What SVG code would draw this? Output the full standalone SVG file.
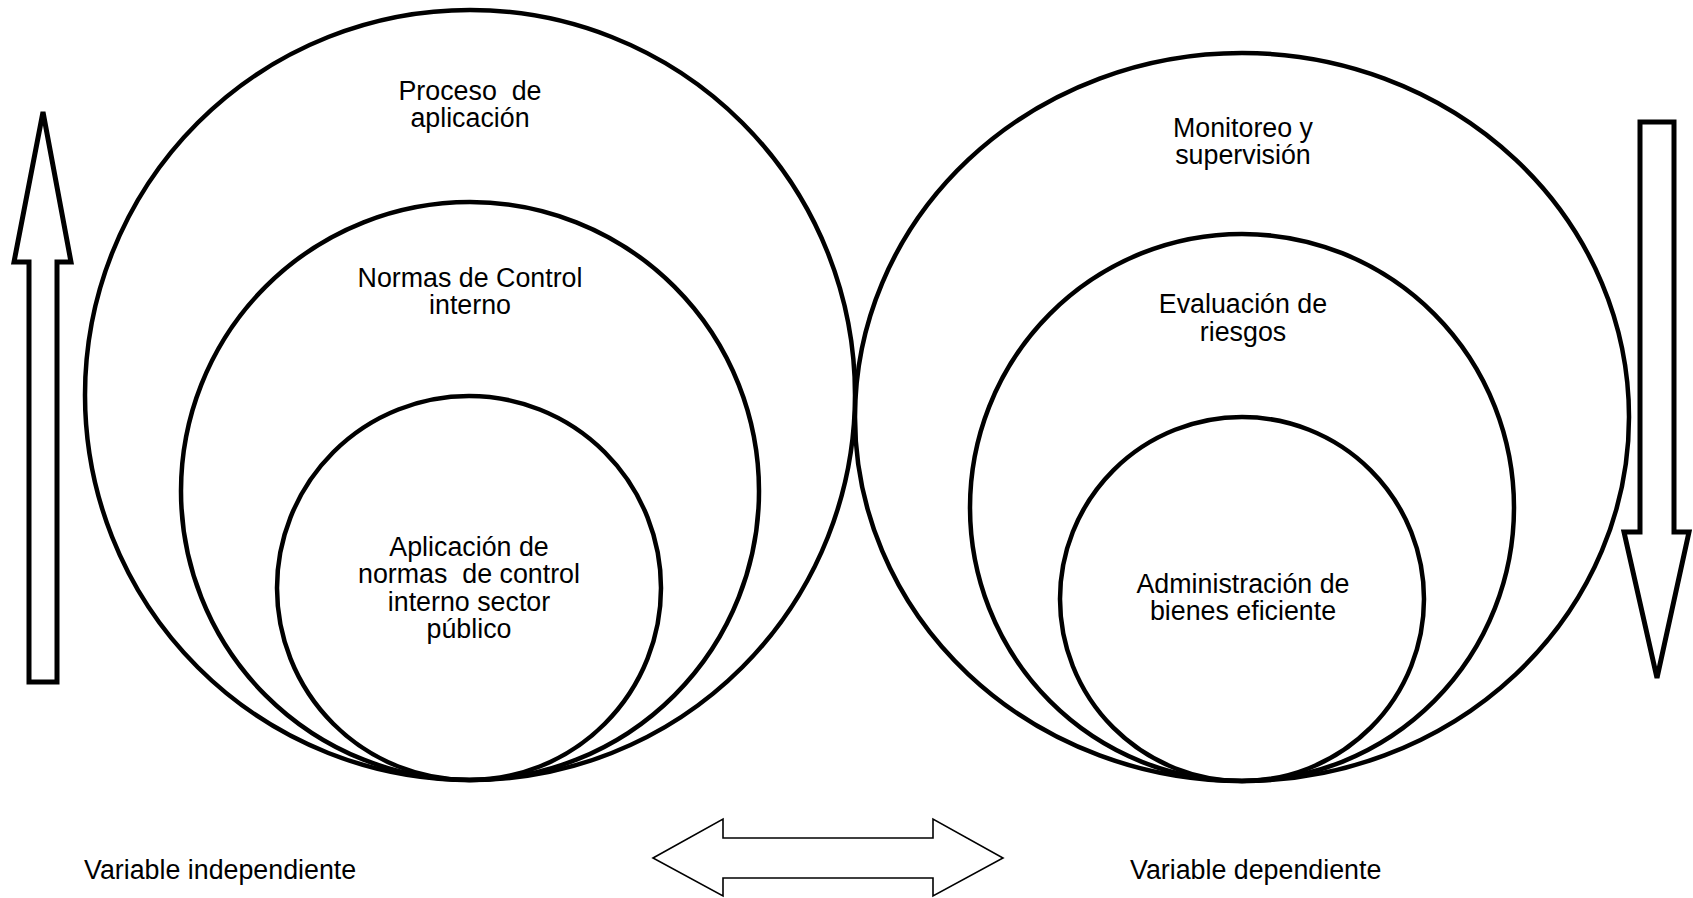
<svg xmlns="http://www.w3.org/2000/svg" width="1693" height="898" viewBox="0 0 1693 898">
<style>
.c{fill:none;stroke:#000;stroke-width:4.5}
.t{font-family:"Liberation Sans",Arial,sans-serif;font-size:26.8px;fill:#000;white-space:pre}
.m{text-anchor:middle}
.a{fill:#fff;stroke:#000;stroke-width:5;stroke-linejoin:miter}
.d{fill:#fff;stroke:#000;stroke-width:1.6}
</style>
<rect width="1693" height="898" fill="#fff"/>
<g id="left-outer">
<circle class="c" cx="470" cy="395" r="385"/>
<text class="t m" x="470" y="100" xml:space="preserve">Proceso  de</text>
<text class="t m" x="470" y="127">aplicación</text>
</g>
<g id="left-middle">
<circle class="c" cx="470" cy="491" r="289"/>
<text class="t m" x="470" y="287">Normas de Control</text>
<text class="t m" x="470" y="314">interno</text>
</g>
<g id="left-inner">
<circle class="c" cx="469" cy="588" r="192"/>
<text class="t m" x="469" y="556">Aplicación de</text>
<text class="t m" x="469" y="583" xml:space="preserve">normas  de control</text>
<text class="t m" x="469" y="611">interno sector</text>
<text class="t m" x="469" y="638">público</text>
</g>
<g id="right-outer">
<ellipse class="c" cx="1242" cy="417" rx="387" ry="364"/>
<text class="t m" x="1243" y="137">Monitoreo y</text>
<text class="t m" x="1243" y="164">supervisión</text>
</g>
<g id="right-middle">
<ellipse class="c" cx="1242" cy="507.5" rx="272" ry="273.5"/>
<text class="t m" x="1243" y="313">Evaluación de</text>
<text class="t m" x="1243" y="341">riesgos</text>
</g>
<g id="right-inner">
<circle class="c" cx="1242" cy="599" r="182"/>
<text class="t m" x="1243" y="593">Administración de</text>
<text class="t m" x="1243" y="620">bienes eficiente</text>
</g>
<g id="connectors">
<polygon class="a" points="43,112 71,262 57,262 57,682 29,682 29,262 14,262"/>
<polygon class="a" points="1640,122 1674,122 1674,532 1689,532 1657,678 1624,532 1640,532"/>
<polygon class="d" points="653,858 723,819 723,838 933,838 933,819 1003,858 933,896 933,878 723,878 723,896"/>
</g>
<g id="label-independiente">
<text class="t" x="84" y="879">Variable independiente</text>
</g>
<g id="label-dependiente">
<text class="t" x="1130" y="879">Variable dependiente</text>
</g>
</svg>
